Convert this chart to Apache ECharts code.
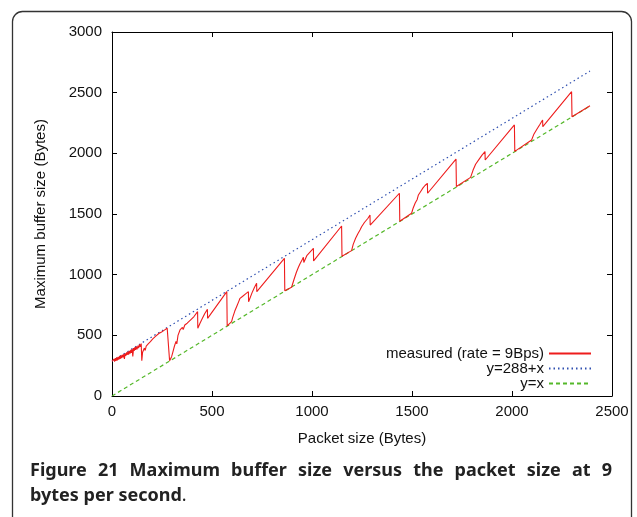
<!DOCTYPE html>
<html>
<head>
<meta charset="utf-8">
<script src="https://cdn.jsdelivr.net/npm/echarts@6/dist/echarts.min.js"></script>
<style>
  html, body { margin: 0; padding: 0; background: #fff; }
  #main { width: 637px; height: 517px; }
</style>
</head>
<body>
<div id="main"></div>
<script>
  // measured max buffer size (packet size, bytes)
  var measured = [
    [0, 285], [4, 300], [7, 278], [10, 305], [13, 283], [17, 312], [20, 290], [24, 318], [27, 294],
    [31, 322], [34, 300], [38, 328], [41, 306], [45, 334], [48, 312], [52, 340], [55, 318], [59, 346],
    [62, 305], [66, 352], [69, 330], [73, 360], [76, 338], [80, 366], [83, 340], [87, 372], [90, 350],
    [94, 380], [97, 355], [101, 388], [104, 325], [108, 395], [111, 372], [115, 402], [118, 380],
    [122, 408], [125, 385], [130, 416], [133, 395], [138, 425], [141, 405], [146, 432], [149, 290],
    [153, 360], [157, 345], [162, 395], [166, 375], [171, 412], [175, 398], [181, 430], [186, 418],
    [192, 448], [197, 438], [204, 470], [209, 462], [216, 490], [222, 500], [234, 515], [248, 528],
    [262, 543], [276, 558], [286, 572], [288, 290],
    [292, 300], [298, 324], [304, 360], [307, 345], [312, 410], [315, 395], [320, 450], [324, 430],
    [330, 500], [334, 485], [340, 544], [346, 530], [352, 565], [356, 548], [364, 585], [368, 570],
    [376, 600], [382, 590], [392, 625], [398, 612], [410, 655], [416, 645], [428, 695], [429, 558],
    [440, 600], [452, 640], [464, 680], [477, 714], [478, 640], [574, 860], [576, 578],
    [598, 613], [604, 650], [608, 635], [614, 700], [618, 688], [624, 740], [628, 728], [634, 780],
    [637, 768], [640, 805], [646, 795], [652, 820], [658, 812], [668, 842], [674, 835], [682, 860],
    [683, 777], [700, 850], [712, 895], [723, 929], [724, 860], [862, 1135], [864, 868],
    [898, 896], [910, 960], [914, 945], [922, 1020], [926, 1005], [932, 1061], [940, 1090],
    [944, 1078], [950, 1120], [957, 1143], [959, 1100], [975, 1160], [985, 1150], [1007, 1217],
    [1008, 1113], [1148, 1401], [1150, 1152],
    [1198, 1198], [1206, 1250], [1210, 1240], [1218, 1300], [1222, 1290], [1230, 1340], [1240, 1368],
    [1248, 1395], [1252, 1385], [1262, 1430], [1268, 1422], [1280, 1465], [1290, 1492], [1291, 1409],
    [1437, 1671], [1439, 1440],
    [1498, 1506], [1506, 1550], [1510, 1540], [1516, 1590], [1520, 1580], [1526, 1620], [1532, 1657],
    [1545, 1690], [1555, 1715], [1565, 1735], [1577, 1753], [1578, 1671], [1720, 1953], [1722, 1726],
    [1793, 1802], [1805, 1860], [1810, 1852], [1818, 1910], [1822, 1900], [1835, 1950], [1850, 1985],
    [1865, 2014], [1866, 1945], [2012, 2234], [2014, 2016],
    [2098, 2110], [2110, 2160], [2114, 2152], [2125, 2200], [2140, 2240], [2153, 2275], [2154, 2220],
    [2298, 2508], [2300, 2302], [2390, 2392]
  ];
  var upperBound = [[0, 288], [2390, 2678]];   // y=288+x
  var lowerBound = [[0, 0], [2390, 2390]];     // y=x

  var xTicks = [0, 500, 1000, 1500, 2000, 2500];
  var yTicks = [0, 500, 1000, 1500, 2000, 2500, 3000];

  var captionLine1 = 'Figure 21 Maximum buffer size versus the packet size at 9';
  var captionLine2 = 'bytes per second';

  var font = 'Liberation Sans, Arial, sans-serif';
  var capFont = 'bold 18px "Noto Sans", sans-serif';
  var chart = echarts.init(document.getElementById('main'), null, {renderer: 'canvas'});

  function axis(pos, ticks, show) {
    return {
      type: 'value',
      position: pos,
      min: ticks[0],
      max: ticks[ticks.length - 1],
      interval: ticks[1] - ticks[0],
      splitLine: {show: false},
      axisLine: {show: true, onZero: false, lineStyle: {color: '#000', width: 1}},
      axisTick: {show: true, inside: true, length: 5, lineStyle: {color: '#000'}},
      axisLabel: {
        show: show, color: '#111', fontSize: 15, fontFamily: font, margin: 8,
        formatter: function (v) { return String(v) }
      }
    }
  }

  var xBottom = axis('bottom', xTicks, true)
  xBottom.name = 'Packet size (Bytes)'
  xBottom.nameLocation = 'middle'
  xBottom.nameGap = 35
  xBottom.nameTextStyle = {color: '#111', fontSize: 15, fontFamily: font}
  var yLeft = axis('left', yTicks, true)
  yLeft.name = 'Maximum buffer size (Bytes)'
  yLeft.nameLocation = 'middle'
  yLeft.nameGap = 64
  yLeft.nameTextStyle = {color: '#111', fontSize: 15, fontFamily: font}
  yLeft.axisLabel.margin = 10

  // justified first caption line: spread the words between x=30 and x=612
  var ctx = document.createElement('canvas').getContext('2d')
  ctx.font = capFont
  var words = captionLine1.split(' ')
  var wordsWidth = 0
  words.forEach(function (w) { wordsWidth += ctx.measureText(w).width })
  var gap = (612 - 30 - wordsWidth) / (words.length - 1)
  var captionEls = []
  var cx = 30
  words.forEach(function (w) {
    captionEls.push({
      type: 'text', x: cx, y: 471,
      style: {text: w, fill: '#222', font: capFont, verticalAlign: 'middle'}
    })
    cx += ctx.measureText(w).width + gap
  })
  captionEls.push({
    type: 'text', x: 30, y: 496,
    style: {
      text: '{b|' + captionLine2 + '}{n|.}',
      verticalAlign: 'middle',
      rich: {
        b: {font: capFont, fill: '#222'},
        n: {font: '18px "Noto Sans", sans-serif', fill: '#222'}
      }
    }
  })

  chart.setOption({
    animation: false,
    backgroundColor: '#fff',
    grid: {left: 112, right: 25, top: 32, bottom: 121},
    xAxis: [xBottom, axis('top', xTicks, false)],
    yAxis: [yLeft, axis('right', yTicks, false)],
    legend: {
      orient: 'vertical',
      right: 40,
      top: 341,
      align: 'right',
      itemWidth: 42,
      itemHeight: 13,
      itemGap: 0,
      itemStyle: {opacity: 0},
      textStyle: {color: '#111', fontSize: 15, fontFamily: font, lineHeight: 14},
      data: ['measured (rate = 9Bps)', 'y=288+x', 'y=x']
    },
    graphic: [
      {
        type: 'rect',
        shape: {x: 12.5, y: 11.5, width: 619, height: 540, r: 10},
        style: {fill: 'none', stroke: '#333', lineWidth: 1.3},
        silent: true
      }
    ].concat(captionEls),
    series: [
      {
        name: 'measured (rate = 9Bps)',
        type: 'line',
        data: measured,
        symbol: 'none',
        z: 3,
        lineStyle: {color: '#ee1c1c', width: 1.1},
        itemStyle: {color: '#ee1c1c'}
      },
      {
        name: 'y=288+x',
        type: 'line',
        data: upperBound,
        symbol: 'none',
        z: 2,
        lineStyle: {color: '#3050b0', width: 1.2, type: [1.5, 3]},
        itemStyle: {color: '#3050b0'}
      },
      {
        name: 'y=x',
        type: 'line',
        data: lowerBound,
        symbol: 'none',
        z: 2,
        lineStyle: {color: '#55b82a', width: 1.2, type: [4, 3]},
        itemStyle: {color: '#55b82a'}
      }
    ]
  })
</script>
</body>
</html>
